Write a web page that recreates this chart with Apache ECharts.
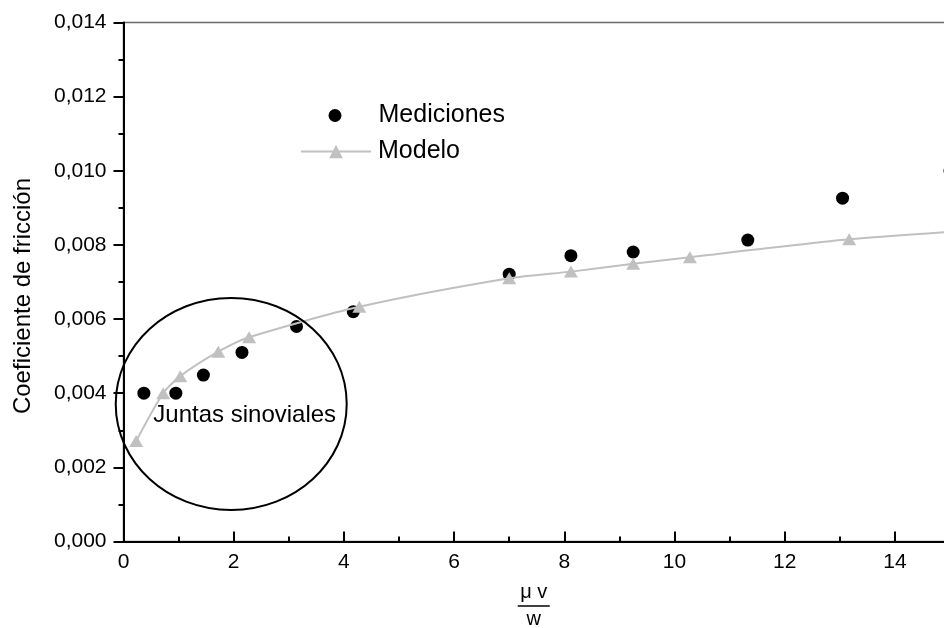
<!DOCTYPE html>
<html>
<head>
<meta charset="utf-8">
<script src="https://cdn.jsdelivr.net/npm/echarts@6/dist/echarts.min.js"></script>
<style>
  html, body { margin: 0; padding: 0; background: #fff; }
  #chart { width: 944px; height: 628px; }
</style>
</head>
<body>
<div id="chart"></div>
<script>
// Measured friction coefficients (black dots)
const medX = [0.37, 0.95, 1.45, 2.15, 3.14, 4.17, 7.00, 8.12, 9.25, 11.33, 13.05, 15.00];
const medY = [0.00400, 0.00400, 0.00449, 0.00510, 0.00580, 0.00620, 0.00721, 0.00771, 0.00781, 0.00813, 0.00926, 0.01000];

// Model curve (grey triangles joined by a smooth line)
const modX = [0.23, 0.72, 1.03, 1.72, 2.28, 4.28, 7.00, 8.12, 9.25, 10.28, 13.17, 15.05];
const modY = [0.00271, 0.00400, 0.00446, 0.00512, 0.00551, 0.00633, 0.00710, 0.00728, 0.00749, 0.00767, 0.00815, 0.00836];

const seriesNames = ['Mediciones', 'Modelo'];

// Axis ranges and tick spacing
const xMin = 0, xMax = 16, xStep = 2;
const yMin = 0, yMax = 0.014, yStep = 0.002;

// Axis titles and annotation
const yTitle = 'Coeficiente de fricción';
const xTitleTop = 'μ v';
const xTitleBottom = 'w';
const regionLabel = 'Juntas sinoviales';
const regionCenter = [1.955, 0.00371];
const regionRadius = [2.096, 0.00286];
const regionLabelAt = [2.2, 0.00339];

const FONT = '"Liberation Sans", Arial, Helvetica, sans-serif';
const GREY = '#c0c0c0';

const zip = (xs, ys) => xs.map((x, i) => [x, ys[i]]);

const chart = echarts.init(document.getElementById('chart'), null, { renderer: 'canvas' });

const option = {
  backgroundColor: '#ffffff',
  animation: false,
  grid: {
    left: 123.5,
    top: 22.5,
    width: 881.6,
    height: 519,
    show: true,
    borderColor: '#6a6a6a',
    borderWidth: 1.5,
    backgroundColor: 'transparent',
    containLabel: false,
    outerBoundsMode: 'none'
  },
  legend: [
    {
      data: [seriesNames[0]],
      orient: 'vertical',
      left: 328.5,
      top: 103,
      padding: 0,
      itemWidth: 70,
      itemHeight: 13,
      itemGap: 0,
      textStyle: { fontFamily: FONT, fontSize: 25, color: '#000', padding: [0, 0, 0, 3.5] },
      selectedMode: false
    },
    {
      data: [seriesNames[1]],
      orient: 'vertical',
      left: 300,
      top: 139,
      padding: 0,
      itemWidth: 70,
      itemHeight: 17,
      itemGap: 0,
      textStyle: { fontFamily: FONT, fontSize: 25, color: '#000', padding: [0, 0, 0, 2] },
      selectedMode: false
    }
  ],
  xAxis: {
    type: 'value',
    min: xMin,
    max: xMax,
    interval: xStep,
    axisLine: { show: true, onZero: false, lineStyle: { color: '#000', width: 2 } },
    axisTick: { show: true, inside: true, length: 10, lineStyle: { color: '#000', width: 2 } },
    minorTick: { show: true, splitNumber: 2, length: 5, lineStyle: { color: '#000', width: 2 } },
    axisLabel: {
      show: true, margin: 10, color: '#000', fontFamily: FONT, fontSize: 21,
      formatter: v => (v <= 14 ? String(v) : '')
    },
    splitLine: { show: false },
    minorSplitLine: { show: false }
  },
  yAxis: {
    type: 'value',
    min: yMin,
    max: yMax,
    interval: yStep,
    axisLine: { show: true, onZero: false, lineStyle: { color: '#000', width: 2 } },
    axisTick: { show: true, inside: false, length: 10, lineStyle: { color: '#000', width: 2 } },
    minorTick: { show: true, splitNumber: 2, length: 5, lineStyle: { color: '#000', width: 2 } },
    axisLabel: {
      show: true, margin: 17, color: '#000', fontFamily: FONT, fontSize: 21,
      formatter: v => v.toFixed(3).replace('.', ',')
    },
    splitLine: { show: false },
    minorSplitLine: { show: false }
  },
  series: [
    {
      name: seriesNames[0],
      type: 'scatter',
      data: zip(medX, medY),
      symbol: 'circle',
      symbolSize: 13,
      itemStyle: { color: '#000', opacity: 1 },
      z: 3
    },
    {
      name: seriesNames[1],
      type: 'line',
      data: zip(modX, modY),
      smooth: 0.25,
      symbol: 'triangle',
      symbolSize: [14, 12],
      showSymbol: true,
      lineStyle: { color: GREY, width: 2 },
      itemStyle: { color: GREY, opacity: 1 },
      z: 4
    }
  ]
};

chart.setOption(option);

// Annotation ellipse, its label and the axis titles
const c = chart.convertToPixel({ gridIndex: 0 }, regionCenter);
const edge = chart.convertToPixel({ gridIndex: 0 }, [regionCenter[0] + regionRadius[0], regionCenter[1] + regionRadius[1]]);
const lab = chart.convertToPixel({ gridIndex: 0 }, regionLabelAt);
const x0 = chart.convertToPixel({ gridIndex: 0 }, [xMin, yMin]);
const yTop = chart.convertToPixel({ gridIndex: 0 }, [xMin, yMax]);
const midX = (x0[0] + chart.getWidth()) / 2;

chart.setOption({
  graphic: [
    {
      type: 'ellipse',
      shape: { cx: c[0], cy: c[1], rx: Math.abs(edge[0] - c[0]), ry: Math.abs(c[1] - edge[1]) },
      style: { fill: 'none', stroke: '#000', lineWidth: 2 },
      z: 10
    },
    {
      type: 'text',
      x: lab[0], y: lab[1],
      style: { text: regionLabel, fontFamily: FONT, fontSize: 24, fill: '#000', align: 'center', verticalAlign: 'middle' },
      z: 11
    },
    {
      type: 'text',
      x: 23, y: (yTop[1] + x0[1]) / 2 + 14,
      rotation: Math.PI / 2,
      style: { text: yTitle, fontFamily: FONT, fontSize: 24, fill: '#000', align: 'center', verticalAlign: 'middle' },
      z: 11
    },
    {
      type: 'text',
      x: midX, y: 592,
      style: { text: xTitleTop, fontFamily: FONT, fontSize: 20, fill: '#000', align: 'center', verticalAlign: 'middle' },
      z: 11
    },
    {
      type: 'line',
      shape: { x1: midX - 16, y1: 606, x2: midX + 16, y2: 606 },
      style: { stroke: '#000', lineWidth: 1.5 },
      z: 11
    },
    {
      type: 'text',
      x: midX, y: 619,
      style: { text: xTitleBottom, fontFamily: FONT, fontSize: 20, fill: '#000', align: 'center', verticalAlign: 'middle' },
      z: 11
    }
  ]
});
</script>
</body>
</html>
